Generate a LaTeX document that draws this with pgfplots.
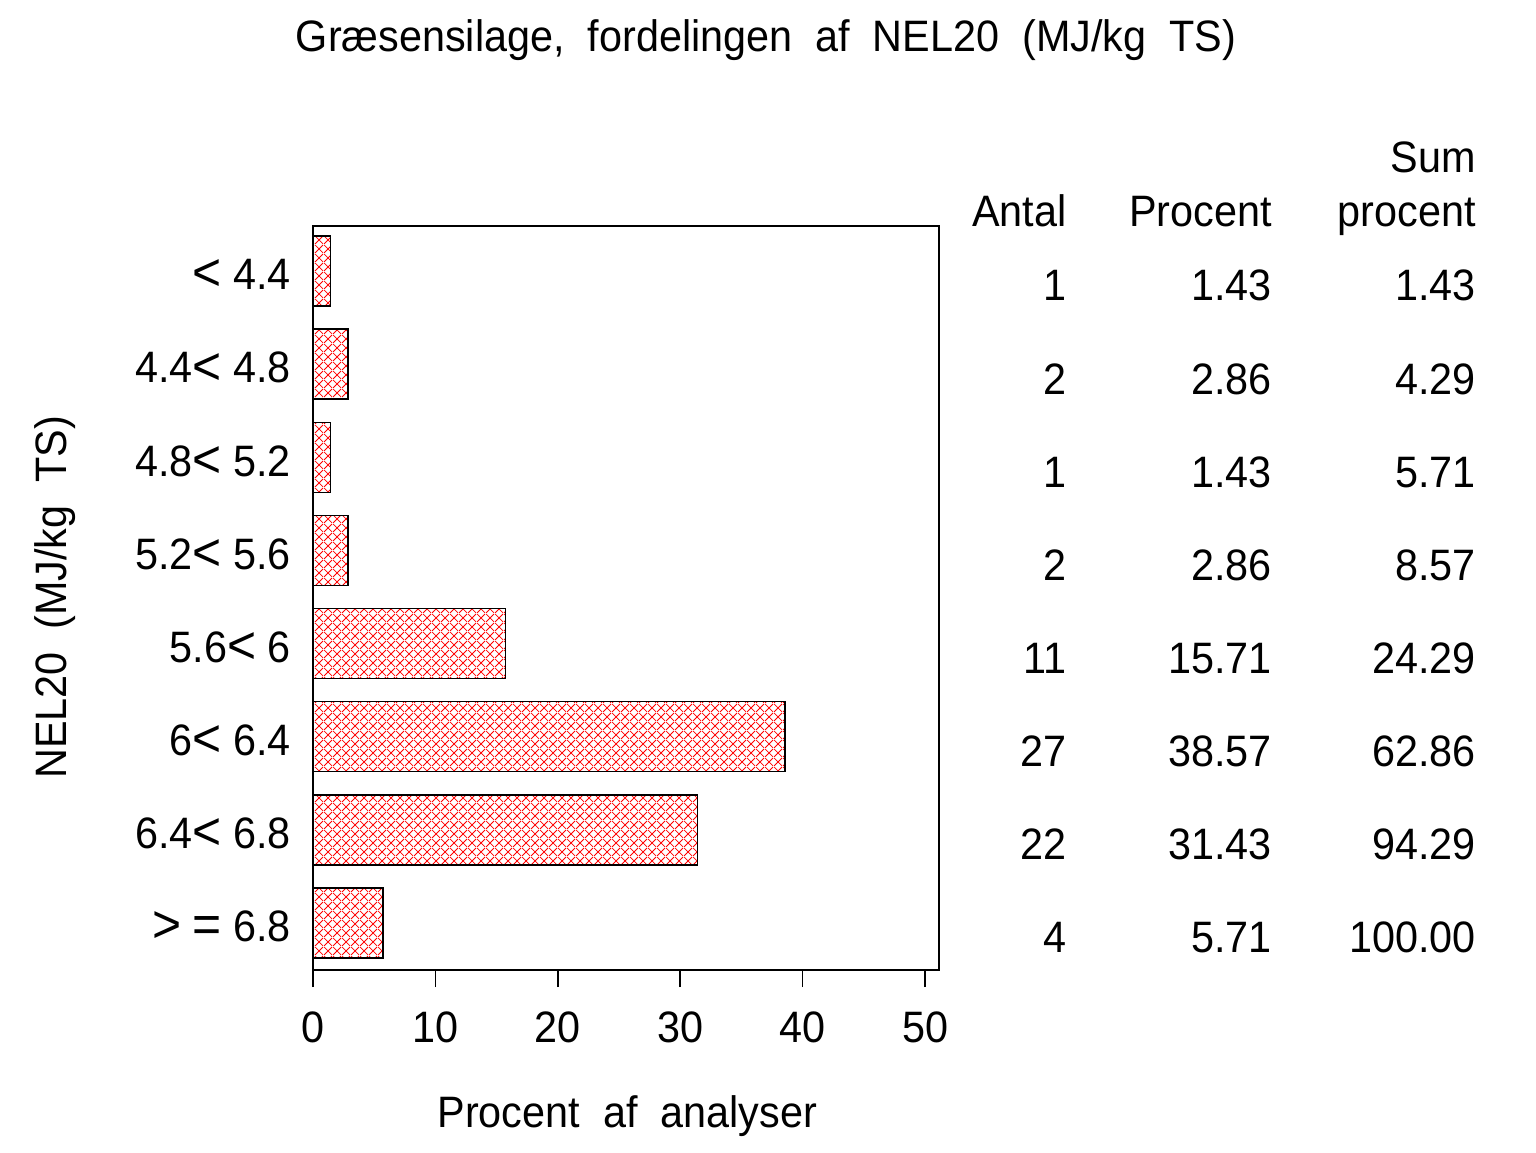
\documentclass[border=0pt]{standalone}
\usepackage{fontspec}
\setmainfont{Liberation Sans}[FakeStretch=0.94]
\usepackage{pgfplots}
\pgfplotsset{compat=1.18}
\usepackage{pgfplotstable}
\usetikzlibrary{patterns}
\pgfdeclarepatternformonly{diagcross}{\pgfpointorigin}{\pgfpoint{4.5pt}{4.5pt}}{\pgfpoint{4.5pt}{4.5pt}}{%
  \pgfsetlinewidth{0.45pt}%
  \pgfpathmoveto{\pgfpoint{0pt}{0pt}}\pgfpathlineto{\pgfpoint{4.5pt}{4.5pt}}%
  \pgfpathmoveto{\pgfpoint{0pt}{4.5pt}}\pgfpathlineto{\pgfpoint{4.5pt}{0pt}}%
  \pgfusepath{stroke}}
\pgfplotstableread{
pos pct
0 1.43
1 2.86
2 1.43
3 2.86
4 15.71
5 38.57
6 31.43
7 5.71
}\bars
\newcommand\LT{\raisebox{-0.6pt}{\fontsize{26.5}{26}\selectfont<}}
\newcommand\GT{\raisebox{-0.6pt}{\fontsize{26.5}{26}\selectfont>}}
\newcommand\EQ{\raisebox{-0.6pt}{\fontsize{26.5}{26}\selectfont=}}
\newcommand\row[4]{%
  \node[anchor=base east, inner sep=0pt] at (axis cs:61.6,#1+0.322) {#2};
  \node[anchor=base east, inner sep=0pt] at (axis cs:78.35,#1+0.322) {#3};
  \node[anchor=base east, inner sep=0pt] at (axis cs:95.02,#1+0.322) {#4};}
\begin{document}
\begin{tikzpicture}[font=\fontsize{22}{26}\selectfont]
\path[use as bounding box] (0,0) rectangle (768pt,576pt);
\begin{axis}[
  at={(156.5pt,91pt)}, anchor=south west,
  scale only axis, width=313pt, height=372pt,
  xmin=0, xmax=51.14, ymin=-0.483, ymax=7.505, y dir=reverse,
  xbar, bar width=35pt,
  xtick={0,10,20,30,40,50}, xtick pos=lower, tick align=outside,
  major tick length=8.5pt,
  ytick={0,1,2,3,4,5,6,7},
  yticklabels={{\LT\ 4.4},{4.4\LT\ 4.8},{4.8\LT\ 5.2},{5.2\LT\ 5.6},{5.6\LT\ 6},{6\LT\ 6.4},{6.4\LT\ 6.8},{\GT\ \EQ\ 6.8}},
  ytick style={draw=none},
  yticklabel style={xshift=1pt, yshift=-2pt},
  xticklabel style={yshift=-9pt},
  /pgf/number format/assume math mode=true,
  axis line style={line width=0.8pt},
  every tick/.style={black, line width=0.8pt},
  clip=false,
  xlabel={Procent\ \ af\ \ analyser},
  ylabel={NEL20\ \ (MJ/kg\ \ TS)},
  every axis x label/.style={at={(axis description cs:0.502,-0.196)}, anchor=center},
  every axis y label/.style={at={(axis description cs:-0.412,0.501)}, anchor=center, rotate=90},
  title={Græsensilage,\ \ fordelingen\ \ af\ \ NEL20\ \ (MJ/kg\ \ TS)},
  every axis title/.style={at={(axis description cs:0.7236,1.25)}, anchor=center},
]
\addplot[draw=black, line width=0.7pt, pattern=diagcross, pattern color=red] table[x=pct, y=pos] {\bars};
\node[anchor=base east, inner sep=0pt] at (axis cs:61.6,-0.473) {Antal};
\node[anchor=base east, inner sep=0pt] at (axis cs:78.35,-0.473) {Procent};
\node[anchor=base east, inner sep=0pt] at (axis cs:95.02,-1.053) {Sum};
\node[anchor=base east, inner sep=0pt] at (axis cs:95.02,-0.473) {procent};
\row{0}{1}{1.43}{1.43}
\row{1}{2}{2.86}{4.29}
\row{2}{1}{1.43}{5.71}
\row{3}{2}{2.86}{8.57}
\row{4}{11}{15.71}{24.29}
\row{5}{27}{38.57}{62.86}
\row{6}{22}{31.43}{94.29}
\row{7}{4}{5.71}{100.00}
\end{axis}
\end{tikzpicture}
\end{document}
